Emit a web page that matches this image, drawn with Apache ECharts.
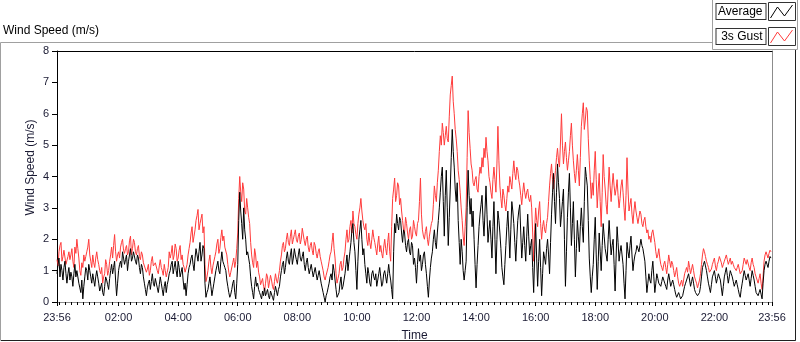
<!DOCTYPE html>
<html>
<head>
<meta charset="utf-8">
<title>Wind Speed (m/s)</title>
<script src="https://cdn.jsdelivr.net/npm/echarts@6.0.0/dist/echarts.min.js"></script>
<style>
  html, body { margin: 0; padding: 0; background: #fff; }
  #chart { width: 800px; height: 342px; }
</style>
</head>
<body>
<div id="chart"></div>
<script>
// samples every 2 minutes, first one at 23:56 (-4 min from midnight)
var startMinute = -4;
var stepMinutes = 2;

var seriesNames = ['Average', '3s Gust'];

// one row per hour
var gust = [
  1.35, 1.15, 1.6, 1.8, 1.9, 1.3, 1.45, 1.65, 1.7, 1.2, 1.25, 1.45, 1.6, 1.35, 1.5, 1.7, 1.3, 1.1, 1.75, 1.55, 2.0, 1.7, 1.4, 1.0, 0.85, 1.25, 1.1, 1.5, 1.3, 1.45,
  1.6, 1.75, 2.0, 1.5, 1.3, 1.1, 1.5, 1.25, 1.1, 1.4, 1.6, 1.35, 1.2, 1.0, 0.9, 1.1, 0.6, 0.8, 0.9, 1.35, 1.2, 0.85, 1.0, 1.3, 1.5, 1.75, 1.4, 1.8, 2.15, 1.6,
  1.3, 1.5, 1.6, 1.4, 1.75, 1.9, 2.0, 1.65, 1.55, 1.7, 1.8, 1.5, 1.6, 1.95, 2.1, 1.5, 1.7, 2.0, 1.9, 1.6, 1.5, 1.7, 1.8, 1.45, 1.35, 1.6, 1.5, 1.25, 1.2, 1.3,
  0.95, 1.05, 1.2, 0.85, 1.0, 1.3, 1.45, 1.15, 1.1, 1.25, 1.3, 1.0, 0.9, 1.15, 1.35, 1.1, 1.0, 0.85, 1.2, 1.0, 0.8, 0.95, 1.1, 1.6, 1.4, 1.55, 1.8, 1.35, 1.5, 1.85,
  1.7, 1.3, 1.4, 1.65, 1.8, 1.35, 1.5, 1.2, 1.1, 0.95, 0.9, 1.2, 1.5, 1.7, 1.9, 2.2, 2.4, 1.9, 2.1, 2.3, 2.6, 2.75, 2.95, 2.3, 2.5, 2.65, 2.8, 2.2, 2.4, 1.2,
  0.65, 0.8, 1.0, 1.3, 1.5, 1.1, 0.9, 1.15, 1.3, 1.45, 1.6, 1.85, 2.0, 1.55, 1.7, 2.05, 2.3, 1.95, 2.1, 1.75, 1.8, 1.5, 1.2, 0.95, 0.8, 0.95, 1.0, 1.25, 1.4, 1.1,
  1.3, 1.7, 2.2, 3.3, 4.0, 3.5, 3.2, 3.8, 3.6, 2.9, 2.8, 3.3, 3.0, 2.7, 2.5, 1.9, 1.5, 1.25, 1.1, 1.7, 1.5, 1.1, 1.3, 0.95, 0.8, 0.55, 0.6, 0.75, 0.5, 0.35,
  0.6, 0.9, 0.8, 0.45, 0.5, 0.85, 0.7, 0.5, 0.4, 0.65, 0.9, 0.7, 0.6, 0.8, 1.0, 1.3, 1.5, 1.8, 1.9, 1.6, 1.7, 2.0, 2.2, 1.9, 1.8, 2.1, 2.3, 1.85, 2.0, 2.15,
  2.3, 2.0, 1.9, 2.1, 2.2, 1.85, 2.0, 2.35, 2.3, 1.95, 1.8, 2.0, 2.1, 1.75, 1.6, 1.8, 1.9, 1.65, 1.5, 1.9, 1.8, 1.55, 1.4, 1.6, 1.7, 1.45, 1.3, 1.15, 1.0, 0.8,
  0.7, 0.85, 0.9, 1.1, 1.3, 1.5, 1.6, 1.9, 2.2, 1.7, 1.4, 0.9, 0.6, 0.75, 0.9, 1.2, 1.3, 1.0, 1.1, 1.4, 1.6, 2.0, 2.3, 1.9, 2.0, 2.4, 2.6, 2.2, 2.9, 2.5,
  2.4, 2.15, 2.0, 2.5, 2.8, 3.0, 3.3, 2.9, 2.6, 2.4, 2.3, 2.5, 2.0, 1.8, 2.2, 1.9, 1.7, 2.0, 2.3, 2.05, 1.9, 1.7, 1.5, 1.85, 2.1, 1.6, 1.8, 1.55, 1.4, 1.75,
  2.0, 1.7, 1.5, 1.9, 2.2, 1.6, 1.3, 2.4, 3.3, 3.6, 3.95, 3.2, 3.4, 3.8, 3.7, 3.1, 3.3, 2.9, 2.6, 2.3, 2.2, 2.7, 2.5, 2.2, 2.0, 2.3, 2.4, 2.0, 2.1, 2.6,
  2.4, 2.2, 2.1, 2.5, 2.6, 3.2, 3.95, 2.8, 2.3, 2.1, 2.0, 2.25, 2.4, 2.0, 1.8, 2.1, 2.3, 2.5, 2.6, 3.1, 3.7, 3.4, 3.2, 3.8, 4.2, 4.8, 5.3, 5.0, 5.7, 5.4,
  5.0, 5.3, 5.6, 5.2, 5.1, 5.9, 6.6, 6.9, 7.2, 6.4, 6.0, 5.5, 5.2, 4.8, 4.2, 3.9, 3.5, 3.0, 2.6, 2.1, 1.8, 2.4, 3.0, 4.6, 6.1, 5.4, 4.9, 4.4, 4.2, 3.8,
  3.7, 3.9, 4.0, 3.6, 3.5, 4.0, 4.3, 4.1, 4.6, 4.3, 4.9, 4.6, 5.25, 4.8, 4.5, 4.0, 3.8, 3.5, 3.3, 3.9, 4.3, 3.9, 3.5, 4.4, 5.6, 4.5, 3.7, 3.3, 3.0, 3.6,
  3.4, 3.1, 2.9, 3.3, 3.7, 3.5, 4.0, 3.8, 3.6, 4.1, 4.5, 4.1, 3.9, 4.3, 4.2, 3.9, 3.7, 3.4, 3.1, 3.5, 3.8, 3.5, 3.3, 3.5, 3.6, 3.3, 3.2, 3.4, 3.0, 2.2,
  1.3, 2.3, 3.0, 2.6, 2.4, 2.9, 3.2, 2.5, 2.0, 2.4, 2.6, 2.3, 2.2, 2.5, 2.7, 3.2, 3.7, 4.1, 4.4, 3.9, 3.6, 3.9, 4.2, 4.6, 4.9, 4.5, 4.3, 5.1, 6.0, 5.0,
  4.4, 4.8, 5.1, 4.6, 4.2, 4.5, 4.8, 5.3, 5.7, 5.0, 4.5, 4.1, 3.8, 4.2, 4.7, 4.2, 3.7, 4.6, 5.6, 6.0, 6.35, 5.5, 5.8, 6.2, 6.1, 5.2, 4.5, 3.9, 3.3, 3.8,
  3.4, 4.2, 4.8, 3.9, 3.0, 3.6, 4.1, 3.2, 2.4, 3.5, 4.7, 4.0, 3.6, 3.1, 2.8, 3.6, 4.3, 3.7, 3.2, 3.7, 4.1, 3.7, 3.4, 3.6, 3.9, 3.4, 3.0, 3.3, 3.7, 3.9,
  3.5, 3.0, 2.6, 3.4, 4.6, 3.6, 2.9, 3.1, 3.3, 2.8, 2.5, 2.9, 3.2, 2.9, 2.7, 2.5, 2.5, 2.9, 2.8, 2.5, 2.4, 2.6, 2.7, 2.4, 2.2, 2.3, 2.0, 2.1, 1.9, 2.2,
  2.3, 2.1, 1.9, 1.6, 1.4, 1.5, 1.7, 1.4, 1.2, 1.1, 1.0, 1.2, 1.3, 1.1, 0.9, 1.2, 1.5, 1.3, 1.1, 1.3, 1.2, 1.0, 0.8, 0.95, 1.1, 0.8, 0.6, 0.5, 0.45, 0.7,
  0.5, 0.7, 0.9, 1.0, 1.1, 0.95, 1.3, 1.1, 0.9, 1.05, 1.2, 1.0, 0.8, 0.7, 0.6, 0.45, 0.5, 0.7, 0.9, 1.2, 1.5, 1.7, 1.6, 1.45, 1.3, 1.2, 1.1, 0.95, 0.9, 1.05,
  1.2, 1.3, 1.4, 1.15, 1.0, 1.2, 1.3, 1.45, 1.5, 1.25, 1.1, 1.2, 1.3, 1.4, 1.5, 1.35, 1.2, 1.3, 1.4, 1.2, 1.3, 1.2, 1.1, 1.15, 1.0, 1.1, 1.2, 1.05, 0.9, 0.95,
  1.0, 1.2, 1.4, 1.3, 1.2, 1.35, 1.3, 1.1, 1.0, 1.25, 1.4, 1.2, 1.1, 0.9, 0.8, 0.7, 0.6, 0.75, 0.9, 0.6, 0.4, 0.8, 1.3, 1.5, 1.6, 1.5, 1.4, 1.55, 1.65, 1.6
];

var average = [
  0.9, 1.2, 1.4, 0.8, 1.2, 1.0, 0.7, 1.1, 1.3, 0.9, 0.6, 0.9, 1.1, 0.7, 0.95, 0.8, 0.5, 0.9, 1.2, 0.8, 1.0, 0.8, 0.6, 0.45, 0.3, 0.7, 0.1, 0.5, 0.8, 1.1,
  1.0, 0.7, 1.2, 1.0, 0.8, 0.6, 0.9, 0.7, 0.5, 0.8, 1.0, 0.8, 0.6, 0.35, 0.4, 0.6, 0.3, 0.2, 0.5, 0.8, 0.7, 0.55, 0.4, 0.75, 1.0, 1.2, 0.9, 1.1, 1.3, 0.7,
  0.2, 0.6, 1.0, 1.2, 1.3, 1.1, 1.6, 1.4, 1.2, 1.35, 1.5, 1.0, 1.3, 1.5, 1.7, 1.3, 1.4, 1.6, 1.6, 1.3, 1.2, 1.5, 1.4, 1.1, 0.9, 1.2, 1.1, 0.8, 0.6, 0.4,
  0.2, 0.45, 0.6, 0.7, 0.4, 0.65, 0.9, 0.6, 0.5, 0.75, 0.7, 0.45, 0.3, 0.55, 0.8, 0.6, 0.4, 0.2, 0.5, 0.65, 0.3, 0.55, 0.7, 0.9, 1.0, 1.2, 1.3, 0.9, 1.1, 1.3,
  1.0, 0.8, 1.3, 1.1, 0.8, 0.95, 1.1, 0.7, 0.4, 0.6, 0.2, 0.55, 0.9, 1.1, 1.2, 1.4, 1.5, 1.2, 1.0, 1.4, 1.7, 1.5, 1.3, 1.6, 1.9, 1.3, 1.5, 1.8, 1.7, 0.6,
  0.15, 0.3, 0.4, 0.6, 0.8, 0.5, 0.2, 0.4, 0.6, 0.8, 1.0, 1.15, 1.3, 1.0, 0.9, 1.3, 1.6, 1.3, 1.2, 1.1, 1.0, 0.7, 0.5, 0.3, 0.15, 0.25, 0.4, 0.6, 0.7, 0.3,
  0.1, 0.6, 1.2, 2.6, 3.5, 2.9, 2.5, 2.0, 3.0, 2.3, 2.0, 1.5, 1.6, 1.4, 1.2, 0.8, 0.5, 0.3, 0.1, 0.5, 0.8, 0.5, 0.6, 0.4, 0.3, 0.2, 0.1, 0.35, 0.2, 0.45,
  0.2, 0.3, 0.4, 0.2, 0.1, 0.35, 0.3, 0.15, 0.05, 0.3, 0.5, 0.35, 0.2, 0.4, 0.5, 0.8, 1.0, 1.2, 1.3, 0.9, 1.1, 1.4, 1.6, 1.3, 1.2, 1.5, 1.7, 1.2, 1.4, 1.7,
  1.5, 1.35, 1.2, 1.5, 1.7, 1.4, 1.3, 1.45, 1.6, 1.2, 1.0, 1.25, 1.4, 1.1, 0.9, 1.05, 1.2, 1.0, 0.8, 0.95, 1.1, 0.9, 0.7, 0.85, 1.0, 0.8, 0.6, 0.45, 0.3, 0.15,
  0.0, 0.2, 0.3, 0.45, 0.6, 0.8, 0.9, 0.7, 1.2, 1.0, 0.7, 0.4, 0.15, 0.2, 0.3, 0.6, 0.8, 0.4, 0.5, 0.7, 0.9, 1.2, 1.5, 1.0, 1.3, 1.6, 1.9, 2.3, 2.5, 1.9,
  1.6, 1.0, 0.4, 1.3, 2.0, 2.3, 2.6, 2.0, 1.5, 1.7, 1.2, 0.9, 0.6, 1.1, 0.9, 0.6, 0.5, 0.9, 1.0, 0.8, 0.7, 0.9, 0.5, 0.7, 0.9, 1.1, 0.8, 0.5, 0.6, 0.9,
  1.0, 0.8, 0.6, 0.9, 1.2, 0.9, 0.7, 0.4, 0.1, 1.6, 2.5, 2.2, 2.8, 2.5, 2.3, 2.7, 2.6, 2.2, 1.9, 2.3, 2.2, 1.8, 1.6, 1.9, 2.0, 1.6, 1.5, 1.9, 1.8, 1.2,
  1.4, 1.1, 0.6, 1.2, 1.7, 1.3, 1.5, 1.0, 1.2, 1.5, 1.6, 1.2, 0.9, 0.5, 0.15, 0.7, 1.1, 1.4, 1.6, 2.0, 2.3, 1.9, 1.7, 2.2, 2.6, 3.0, 3.5, 4.0, 4.3, 3.2,
  2.1, 3.4, 4.2, 3.0, 1.8, 2.7, 3.6, 4.6, 5.5, 4.8, 4.3, 3.6, 3.2, 3.8, 2.6, 1.9, 1.2, 2.0, 1.6, 1.0, 0.7, 1.0, 1.3, 3.0, 4.2, 3.4, 2.8, 3.3, 2.4, 2.9,
  2.0, 1.2, 0.45, 1.2, 1.8, 2.4, 2.8, 3.1, 3.4, 2.6, 2.1, 2.9, 3.7, 2.8, 1.9, 2.3, 2.6, 2.0, 1.4, 2.4, 3.2, 2.0, 0.9, 2.0, 2.9, 2.6, 2.2, 1.7, 1.1, 0.8,
  0.55, 1.2, 1.8, 2.4, 2.9, 2.2, 1.4, 2.3, 3.2, 2.9, 2.5, 1.9, 1.3, 2.0, 2.6, 2.9, 3.1, 2.2, 1.4, 1.9, 2.4, 1.8, 1.3, 2.1, 2.8, 2.1, 1.5, 1.8, 2.0, 1.1,
  0.3, 1.5, 2.5, 1.4, 0.5, 1.3, 2.0, 1.1, 0.2, 0.9, 1.6, 1.4, 1.2, 1.7, 2.0, 1.5, 0.9, 1.9, 2.8, 3.5, 4.1, 3.2, 2.5, 3.5, 4.4, 3.8, 3.3, 2.4, 2.8, 3.2,
  3.6, 2.0, 0.5, 1.6, 2.7, 3.5, 4.1, 3.0, 1.8, 2.5, 3.2, 2.0, 0.8, 1.7, 2.6, 2.1, 1.6, 2.4, 3.0, 2.4, 1.9, 3.2, 4.3, 4.0, 3.7, 2.6, 1.4, 0.8, 0.3, 0.8,
  1.2, 2.0, 2.7, 1.5, 0.4, 1.3, 2.2, 1.6, 1.0, 1.8, 2.5, 2.1, 1.7, 1.5, 1.3, 2.0, 2.6, 2.0, 1.5, 1.8, 2.0, 1.2, 0.35, 1.4, 2.4, 1.9, 1.3, 1.6, 1.8, 1.5,
  1.2, 0.6, 0.1, 1.0, 1.9, 1.6, 1.4, 1.8, 2.1, 1.5, 1.0, 1.3, 1.5, 1.6, 1.8, 1.7, 1.6, 1.8, 2.0, 1.8, 1.7, 1.5, 1.3, 0.8, 0.3, 0.6, 0.9, 0.7, 0.6, 1.0,
  1.3, 0.8, 0.3, 0.6, 0.9, 0.75, 0.6, 0.55, 0.5, 0.65, 0.8, 0.7, 0.6, 0.5, 0.4, 0.7, 0.9, 0.7, 0.5, 0.6, 0.7, 0.55, 0.4, 0.25, 0.15, 0.2, 0.3, 0.2, 0.1, 0.15,
  0.2, 0.35, 0.5, 0.6, 0.7, 0.8, 0.9, 0.7, 0.5, 0.65, 0.8, 0.6, 0.4, 0.3, 0.25, 0.2, 0.15, 0.3, 0.5, 0.8, 1.1, 1.2, 1.3, 1.15, 1.0, 0.8, 0.6, 0.45, 0.3, 0.55,
  0.8, 0.9, 1.0, 0.8, 0.6, 0.75, 0.9, 0.8, 0.7, 0.45, 0.2, 0.5, 0.8, 0.95, 1.1, 0.85, 0.6, 0.8, 1.0, 0.9, 0.8, 0.65, 0.5, 0.6, 0.7, 0.55, 0.4, 0.25, 0.15, 0.4,
  0.6, 0.8, 1.0, 0.85, 0.7, 0.8, 0.9, 0.7, 0.5, 0.75, 1.0, 0.85, 0.7, 0.5, 0.3, 0.25, 0.2, 0.3, 0.4, 0.25, 0.1, 0.6, 1.0, 1.2, 1.3, 1.2, 1.1, 1.3, 1.45, 1.4
];

// labelled ticks (minutes from midnight) and the small ticks between them
var majorTicks = [-4, 120, 240, 360, 480, 600, 720, 840, 960, 1080, 1200, 1320, 1436];
var minorTicks = [];
for (var t = 0; t <= 1428; t += 12) minorTicks.push(t);

var FONT = 'Liberation Sans';
var TEXT = '#1a1a33';

function toPairs(values) {
  return values.map(function (v, i) { return [startMinute + i * stepMinutes, v]; });
}

function clock(v) {
  var m = ((Math.round(v) % 1440) + 1440) % 1440;
  var h = Math.floor(m / 60), mm = m % 60;
  return (h < 10 ? '0' : '') + h + ':' + (mm < 10 ? '0' : '') + mm;
}

var chart = echarts.init(document.getElementById('chart'));
chart.setOption({
  animation: false,
  backgroundColor: '#fff',
  textStyle: { fontFamily: FONT },
  title: {
    text: 'Wind Speed (m/s)',
    left: 3, top: 25, padding: 0,
    textStyle: { fontSize: 12, fontWeight: 'normal', color: '#000', fontFamily: FONT }
  },
  legend: {
    orient: 'vertical',
    right: 7, top: 3, padding: 0,
    align: 'right',
    itemWidth: 22, itemHeight: 13, itemGap: 8,
    icon: 'path://M0,13 L7,2 L14,11 L22,0',
    textStyle: {
      fontSize: 12, color: '#000', fontFamily: FONT,
      borderColor: '#333', borderWidth: 1, backgroundColor: '#fff',
      padding: [2, 3, 1, 3], width: 43
    },
    data: [
      { name: seriesNames[0], itemStyle: { color: 'transparent', borderColor: '#000', borderWidth: 1 } },
      { name: seriesNames[1], itemStyle: { color: 'transparent', borderColor: '#ff3b3b', borderWidth: 1 } }
    ]
  },
  graphic: [
    // panel frame
    { type: 'rect', z: 0, silent: true, shape: { x: 0.5, y: 42.5, width: 795, height: 298 }, style: { fill: 'none', stroke: '#a0a0a0', lineWidth: 1 } },
    { type: 'polyline', z: 0, silent: true, shape: { points: [[1, 340.5], [795.5, 340.5], [795.5, 43]] }, style: { fill: 'none', stroke: '#202020', lineWidth: 1 } },
    // legend panel
    { type: 'rect', z: 1, silent: true, shape: { x: 712.5, y: -1, width: 85, height: 50.5 }, style: { fill: '#fff', stroke: '#a0a0a0', lineWidth: 1 } },
    { type: 'rect', z: 5, silent: true, shape: { x: 768.5, y: 2.5, width: 27, height: 18 }, style: { fill: 'none', stroke: '#333', lineWidth: 1 } },
    { type: 'rect', z: 5, silent: true, shape: { x: 768.5, y: 27.5, width: 27, height: 18 }, style: { fill: 'none', stroke: '#333', lineWidth: 1 } }
  ],
  grid: { left: 57, top: 51, right: 28, bottom: 40, outerBoundsMode: 'none' },
  xAxis: [
    {
      type: 'value', min: -4, max: 1436, position: 'bottom',
      name: 'Time', nameLocation: 'middle', nameGap: 28, nameMoveOverlap: false,
      nameTextStyle: { fontSize: 12, color: TEXT, fontFamily: FONT },
      axisLine: { show: true, onZero: false, lineStyle: { color: '#8c8c8c', width: 1 } },
      axisTick: { show: true, customValues: majorTicks, length: 4, lineStyle: { color: '#000' } },
      axisLabel: { customValues: majorTicks, formatter: clock, margin: 10, fontSize: 11, color: TEXT, fontFamily: FONT },
      splitLine: { show: false }
    },
    {
      type: 'value', min: -4, max: 1436, position: 'bottom',
      axisLine: { show: false, onZero: false },
      axisTick: { show: true, customValues: minorTicks, length: 3, lineStyle: { color: '#000' } },
      axisLabel: { show: false },
      splitLine: { show: false }
    },
    {
      type: 'value', min: -4, max: 1436, position: 'top',
      axisLine: { show: true, onZero: false, lineStyle: { color: '#000', width: 1 } },
      axisTick: { show: false },
      axisLabel: { show: false },
      splitLine: { show: false }
    }
  ],
  yAxis: [
    {
      type: 'value', min: 0, max: 8, interval: 1, position: 'left',
      name: 'Wind Speed (m/s)', nameLocation: 'middle', nameGap: 20, nameMoveOverlap: false,
      nameTextStyle: { fontSize: 12, color: TEXT, fontFamily: FONT, padding: [0, 0, 0, 18] },
      axisLine: { show: true, onZero: false, lineStyle: { color: '#000', width: 1 } },
      axisTick: { show: true, length: 5, lineStyle: { color: '#000' } },
      axisLabel: { margin: 8, fontSize: 11, color: TEXT, fontFamily: FONT },
      splitLine: { show: false }
    },
    {
      type: 'value', min: 0, max: 8, interval: 1, position: 'right',
      axisLine: { show: true, onZero: false, lineStyle: { color: '#8c8c8c', width: 1 } },
      axisTick: { show: false },
      axisLabel: { show: false },
      splitLine: { show: false }
    }
  ],
  series: [
    {
      name: seriesNames[1], type: 'line', data: toPairs(gust),
      showSymbol: false, symbol: 'none', z: 2,
      lineStyle: { color: '#ff3b3b', width: 1 }, itemStyle: { color: '#ff3b3b' }
    },
    {
      name: seriesNames[0], type: 'line', data: toPairs(average),
      showSymbol: false, symbol: 'none', z: 3,
      lineStyle: { color: '#000', width: 1 }, itemStyle: { color: '#000' }
    }
  ]
});
</script>
</body>
</html>
